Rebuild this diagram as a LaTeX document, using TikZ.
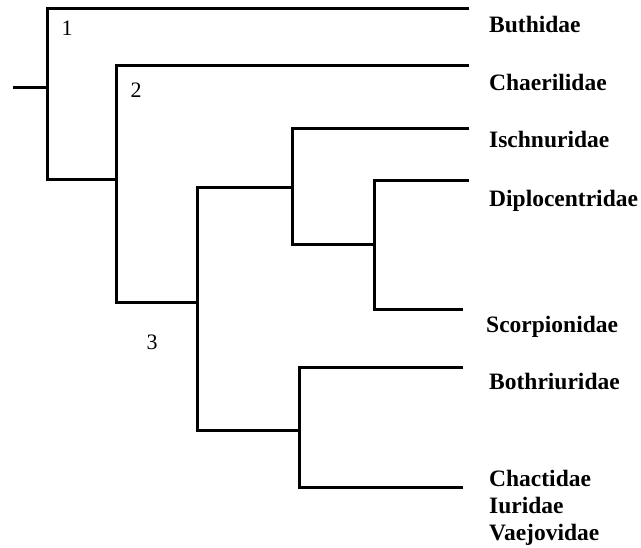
\documentclass[tikz,border=0pt]{standalone}
\usepackage{fontspec}
\setmainfont{Liberation Serif}
\begin{document}
\begin{tikzpicture}[x=1pt,y=-1pt,
  branch/.style={line width=3pt, line join=miter, black},
  taxon/.style={anchor=base west, inner sep=0pt, font=\fontsize{23.5}{28}\selectfont\bfseries},
  clade/.style={anchor=center, inner sep=0pt, font=\fontsize{22}{26}\selectfont}]
\useasboundingbox (0,0) rectangle (641,548);
% internal nodes
\coordinate (r)  at (13,88);
\coordinate (n1) at (47,88);
\coordinate (n2) at (116,180);
\coordinate (n3) at (197,303);
\coordinate (n4) at (292,188);
\coordinate (n5) at (374,245);
\coordinate (n6) at (299,431);
% leaf ends
\coordinate (l1) at (469,8.5);
\coordinate (l2) at (469,66);
\coordinate (l3) at (469,129);
\coordinate (l4) at (469,181);
\coordinate (l5) at (463,310);
\coordinate (l6) at (463,368);
\coordinate (l7) at (463,488);
% branches
\draw[branch] (r) -- (n1);
\draw[branch] (l1) -| (n1) |- (n2);
\draw[branch] (l2) -| (n2) |- (n3);
\draw[branch] (n4) -| (n3) |- (n6);
\draw[branch] (l3) -| (n4) |- (n5);
\draw[branch] (l4) -| (n5) |- (l5);
\draw[branch] (l6) -| (n6) |- (l7);
% taxa
\node[taxon] (t1) at (489,33) {Buthidae};
\node[taxon] (t2) at (489,91) {Chaerilidae};
\node[taxon] (t3) at (489,148) {Ischnuridae};
\node[taxon] (t4) at (489,207) {Diplocentridae};
\node[taxon] (t5) at (486,333) {Scorpionidae};
\node[taxon] (t6) at (489,390) {Bothriuridae};
\node[taxon] (t7) at (489,486) {Chactidae};
\node[taxon] (t8) at (489,514) {Iuridae};
\node[taxon] (t9) at (489,540) {Vaejovidae};
% clade numbers
\node[clade] (c1) at (67,28) {1};
\node[clade] (c2) at (136,90) {2};
\node[clade] (c3) at (152,342) {3};
\end{tikzpicture}
\end{document}
